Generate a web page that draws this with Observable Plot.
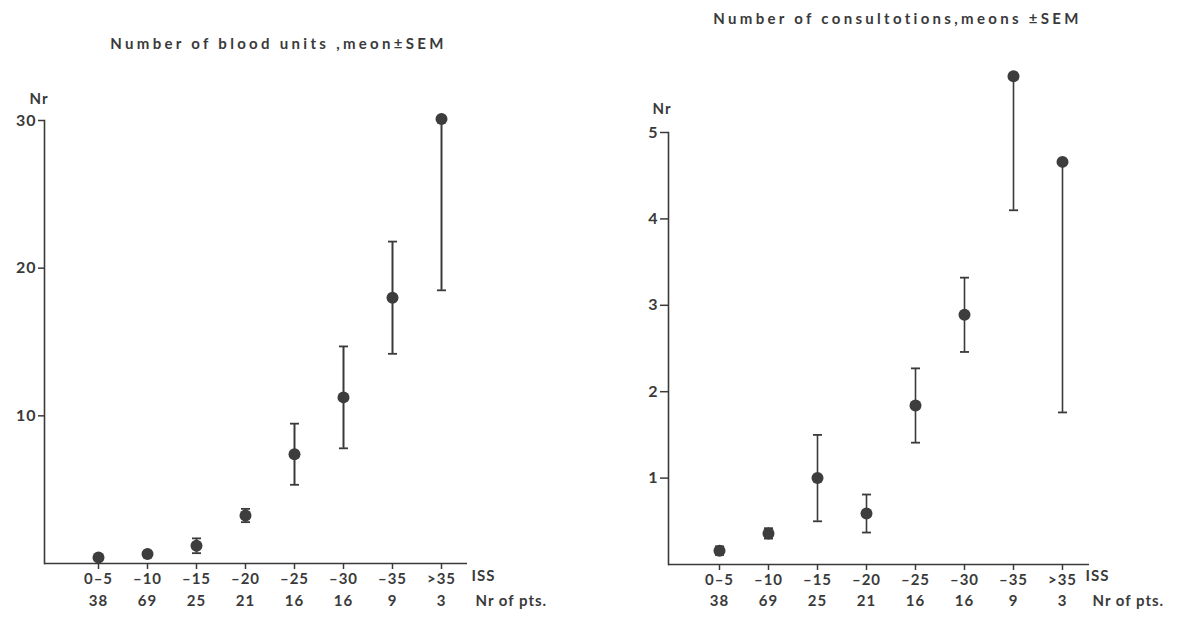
<!DOCTYPE html>
<html>
<head>
<meta charset="utf-8">
<script src="https://cdn.jsdelivr.net/npm/d3@7"></script>
<script src="https://cdn.jsdelivr.net/npm/@observablehq/plot@0.6"></script>
<style>
  body { margin: 0; background: #fff; }
  #wrap { display: flex; width: 1184px; height: 619px; overflow: hidden; }
  .ttl text { letter-spacing: 3.3px; }
</style>
</head>
<body>
<div id="wrap"></div>
<script>
// ---- data ----
const issCats = ["0–5", "–10", "–15", "–20", "–25", "–30", "–35", ">35"];
const nPts = [38, 69, 25, 21, 16, 16, 9, 3];

const bloodMean = [0.4, 0.65, 1.2, 3.25, 7.4, 11.25, 18.0, 30.1];
const bloodSem  = [0.1, 0.1, 0.5, 0.45, 2.07, 3.45, 3.8, 11.6];
const bloodTicks = [10, 20, 30];
const bloodTitle = "Number of blood units ,meon±SEM";

const consultMean = [0.16, 0.36, 1.0, 0.59, 1.84, 2.89, 5.65, 4.66];
const consultSem  = [0.05, 0.06, 0.5, 0.22, 0.43, 0.43, 1.55, 2.9];
const consultTicks = [1, 2, 3, 4, 5];
const consultTitle = "Number of consultotions,meons ±SEM";

const yLabel = "Nr";
const xLabel1 = "ISS";
const xLabel2 = "Nr of pts.";

// ---- helpers ----
const ink = "#3a3a3a";
const cap = {
  draw(ctx, size) {
    const r = Math.sqrt(size / Math.PI);
    ctx.moveTo(-r, 0);
    ctx.lineTo(r, 0);
  }
};

function rows(means, sems, yMax) {
  return issCats.map((c, i) => {
    const lo = means[i] - sems[i];
    const hi = means[i] + sems[i];
    return { cat: c, n: nPts[i], mean: means[i], lo, hi, hiShown: hi <= yMax ? hi : means[i], hiOk: hi <= yMax };
  });
}

function panel(o) {
  const data = rows(o.mean, o.sem, o.yMax);
  const font = { fontSize: 15, fontWeight: 700, fill: ink };
  return Plot.plot({
    width: 592,
    height: 619,
    marginLeft: o.ml, marginRight: o.mr, marginTop: o.mt, marginBottom: o.mb,
    style: { fontFamily: "Lato, 'DejaVu Sans', sans-serif", color: ink, background: "#fff", overflow: "visible", letterSpacing: "1px" },
    x: { type: "point", domain: issCats, range: o.xRange, padding: 0 },
    y: { domain: [0, o.yMax] },
    marks: [
      Plot.frame({ anchor: "left", stroke: ink, strokeWidth: 1.6 }),
      Plot.ruleY([0], { stroke: ink, strokeWidth: 1.6 }),
      Plot.axisY({ ticks: o.yTicks, tickFormat: d => String(d), tickSize: o.ts, tickPadding: 2, fontSize: 16, fontWeight: 700, stroke: ink, strokeWidth: 1.5, label: null }),
      Plot.axisX({ tickSize: 6, tickPadding: 4, fontSize: 15, fontWeight: 700, stroke: ink, strokeWidth: 1.5, label: null }),
      Plot.text(data, { x: "cat", text: d => String(d.n), frameAnchor: "bottom", dy: o.dy2, ...font }),
      Plot.text([xLabel1], { text: d => d, frameAnchor: "bottom-right", dx: o.issDx, dy: o.dy1, textAnchor: "start", ...font }),
      Plot.text([xLabel2], { text: d => d, frameAnchor: "bottom-right", dx: o.ptsDx, dy: o.dy2, textAnchor: "start", ...font }),
      Plot.text([yLabel], { text: d => d, frameAnchor: "top-left", dx: o.nrDx, dy: o.nrDy, textAnchor: "start", ...font }),
      Plot.text([o.title], { text: d => d, frameAnchor: "top-left", dx: o.tDx, dy: o.tDy, textAnchor: "middle", fontSize: 15, fontWeight: 700, fill: ink, className: "ttl" }),
      Plot.ruleX(data, { x: "cat", y1: "lo", y2: "hiShown", stroke: ink, strokeWidth: o.ew }),
      Plot.dot(data, { x: "cat", y: "lo", symbol: cap, r: 4.5, stroke: ink, fill: "none", strokeWidth: 1.8 }),
      Plot.dot(data.filter(d => d.hiOk), { x: "cat", y: "hi", symbol: cap, r: 4.5, stroke: ink, fill: "none", strokeWidth: 1.8 }),
      Plot.dot(data, { x: "cat", y: "mean", r: 6, fill: "#3d3d3d", stroke: "none" })
    ]
  });
}

const wrap = document.getElementById("wrap");
wrap.append(panel({
  mean: bloodMean, sem: bloodSem, yMax: 30, yTicks: bloodTicks, title: bloodTitle,
  ml: 44, mr: 125, mt: 120, mb: 56, xRange: [96, 443], ts: 6, ew: 2,
  dy1: 17, dy2: 42, issDx: 4, ptsDx: 8, nrDx: -15, nrDy: -27, tDx: 234, tDy: -82
}));
wrap.append(panel({
  mean: consultMean, sem: consultSem, yMax: 5, yTicks: consultTicks, title: consultTitle,
  ml: 76, mr: 95, mt: 132, mb: 55, xRange: [125, 472], ts: 8, ew: 1.6,
  dy1: 16, dy2: 41, issDx: -4, ptsDx: 3, nrDx: -16, nrDy: -29, tDx: 229, tDy: -119
}));
</script>
</body>
</html>
